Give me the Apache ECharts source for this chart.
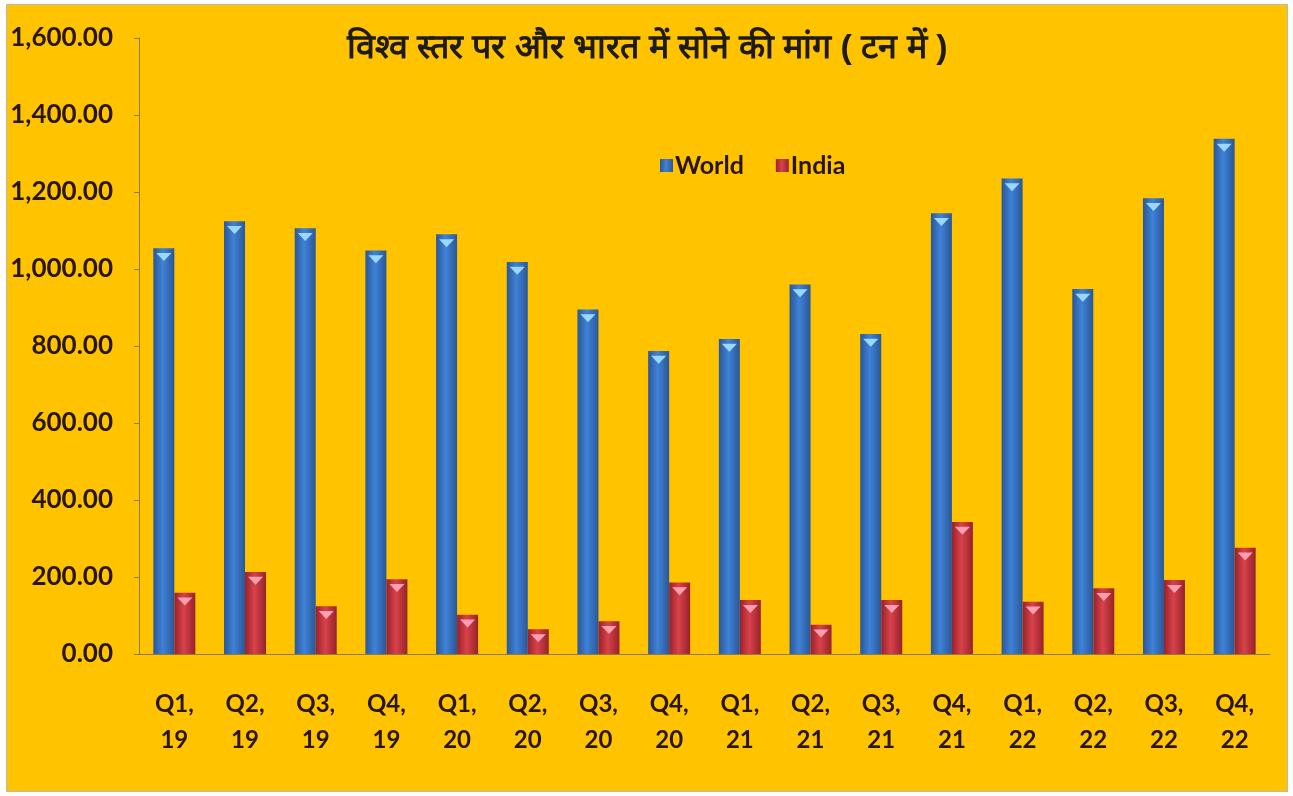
<!DOCTYPE html>
<html>
<head>
<meta charset="utf-8">
<script src="https://cdn.jsdelivr.net/npm/echarts@6/dist/echarts.min.js"></script>
<style>
  html, body { margin: 0; padding: 0; background: #fff; }
  #chart { position: absolute; left: 6px; top: 4px; width: 1280px; height: 786px; border: 1px solid #b9b9b9; background: #FFC300; }
</style>
</head>
<body>
<div id="chart"></div>
<script>
const categories = ['Q1,\n19', 'Q2,\n19', 'Q3,\n19', 'Q4,\n19', 'Q1,\n20', 'Q2,\n20', 'Q3,\n20', 'Q4,\n20',
  'Q1,\n21', 'Q2,\n21', 'Q3,\n21', 'Q4,\n21', 'Q1,\n22', 'Q2,\n22', 'Q3,\n22', 'Q4,\n22'];
const world = [1054, 1124, 1106, 1048, 1090, 1018, 895, 787, 818, 960, 831, 1145, 1235, 948, 1184, 1338];
const india = [159, 213, 124, 194, 102, 64, 85, 186, 140, 76, 140, 343, 136, 171, 192, 276];
const titleText = 'विश्व स्तर पर और भारत में सोने की मांग ( टन में )';

const chart = echarts.init(document.getElementById('chart'));

const cylinder = (edge, mid) => new echarts.graphic.LinearGradient(0, 0, 1, 0, [
  { offset: 0, color: edge },
  { offset: 0.45, color: mid },
  { offset: 1, color: edge }
]);
const cap = 'path://M0,0 L10,0 L5,6 Z';

chart.setOption({
  backgroundColor: '#FFC300',
  textStyle: { fontFamily: 'Lato, sans-serif' },
  title: {
    text: titleText,
    left: 'center',
    top: 22,
    textStyle: { fontSize: 34, fontWeight: 'bold', color: '#1e1a14', fontFamily: 'sans-serif' }
  },
  legend: {
    left: 648,
    top: 143,
    itemWidth: 13,
    itemHeight: 13,
    itemGap: 32,
    icon: 'rect',
    data: ['World', 'India'],
    textStyle: { fontSize: 25, fontWeight: 'bold', color: '#2a1606', padding: [0, 0, 0, -3] }
  },
  grid: { left: 132, right: 17, top: 33, bottom: 137 },
  xAxis: {
    type: 'category',
    data: categories,
    axisLine: { lineStyle: { color: '#8f7a3f', width: 1 } },
    axisTick: { length: 5, lineStyle: { color: '#8f7a3f' } },
    axisLabel: { fontSize: 24, fontWeight: 'bold', color: '#2a1606', margin: 32, lineHeight: 36 }
  },
  yAxis: {
    type: 'value',
    min: 0,
    max: 1600,
    interval: 200,
    splitLine: { show: false },
    axisLine: { show: true, lineStyle: { color: '#8f7a3f', width: 1 } },
    axisTick: { show: true, length: 5, lineStyle: { color: '#8f7a3f' } },
    axisLabel: {
      fontSize: 26, fontWeight: 'bold', color: '#2a1606', margin: 26,
      formatter: v => v.toLocaleString('en-US', { minimumFractionDigits: 2, maximumFractionDigits: 2 })
    }
  },
  series: [
    {
      name: 'World', type: 'bar', data: world, barWidth: 21, barGap: '0%',
      itemStyle: { color: cylinder('#2a5796', '#3f82d8') }
    },
    {
      name: 'India', type: 'bar', data: india, barWidth: 21, barGap: '0%',
      itemStyle: { color: cylinder('#97222a', '#d9424a') }
    },
    {
      name: 'World', type: 'pictorialBar', data: world, barWidth: 21, barGap: '0%',
      symbol: cap, symbolSize: [15, 8], symbolPosition: 'end', symbolOffset: [0, '60%'],
      itemStyle: { color: '#9ad8ff' }, z: 3, silent: true
    },
    {
      name: 'India', type: 'pictorialBar', data: india, barWidth: 21, barGap: '0%',
      symbol: cap, symbolSize: [15, 8], symbolPosition: 'end', symbolOffset: [0, '60%'],
      itemStyle: { color: '#ff9fb0' }, z: 3, silent: true
    }
  ]
});
</script>
</body>
</html>
